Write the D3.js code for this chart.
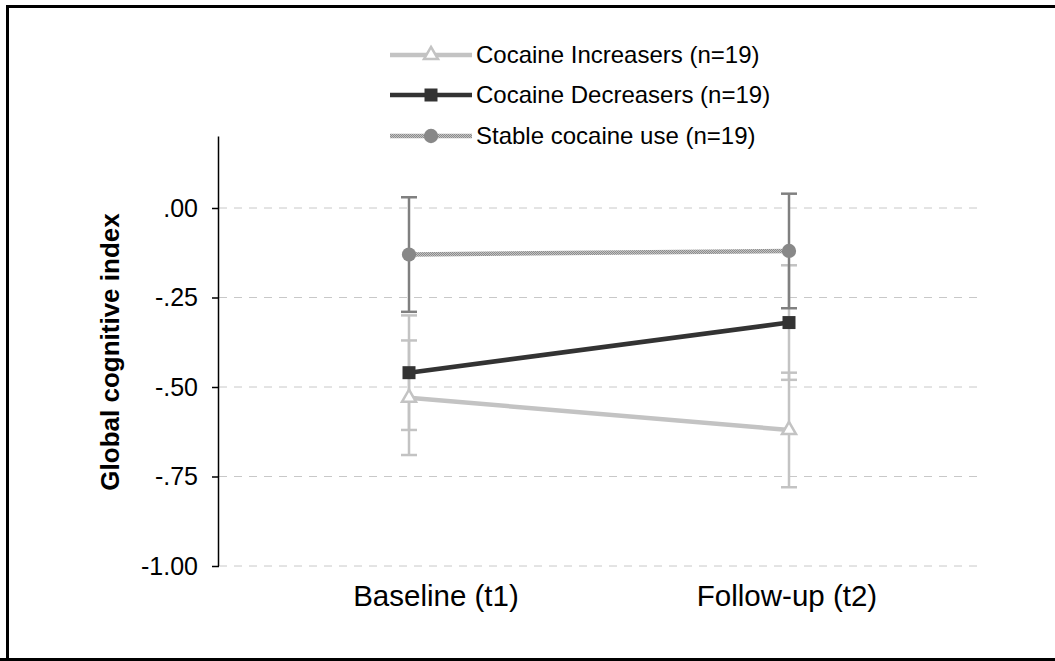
<!DOCTYPE html>
<html><head><meta charset="utf-8">
<script src="https://cdn.jsdelivr.net/npm/d3@7"></script>
<style>body{margin:0;background:#fff}svg{display:block}text{font-family:"Liberation Sans",Arial,sans-serif}</style>
</head><body>
<svg id="chart" width="1055" height="661"></svg>
<script>
const timepoints = ["Baseline (t1)", "Follow-up (t2)"];
const seriesNames = ["Cocaine Increasers (n=19)", "Cocaine Decreasers (n=19)", "Stable cocaine use (n=19)"];
const increasersMean = [-0.53, -0.62];
const increasersErr = [0.16, 0.16];
const decreasersMean = [-0.46, -0.32];
const decreasersErr = [0.16, 0.16];
const stableMean = [-0.13, -0.12];
const stableErr = [0.16, 0.16];
const yTicks = [0, -0.25, -0.5, -0.75, -1.0];
const yTickLabels = [".00", "-.25", "-.50", "-.75", "-1.00"];
const yTitle = "Global cognitive index";

const svg = d3.select("#chart");
const defs = svg.append("defs");
const pat = defs.append("pattern").attr("id","checker").attr("width",2).attr("height",2).attr("patternUnits","userSpaceOnUse");
pat.append("rect").attr("width",2).attr("height",2).attr("fill","#c4c4c4");
pat.append("rect").attr("width",1).attr("height",1).attr("fill","#8c8c8c");
pat.append("rect").attr("x",1).attr("y",1).attr("width",1).attr("height",1).attr("fill","#8c8c8c");

// frame
svg.append("path").attr("d","M7.5,670 L7.5,6.5 L1065,6.5 M0,659.5 L1065,659.5")
  .attr("fill","none").attr("stroke","#000").attr("stroke-width",3);

const x = d3.scaleBand().domain(timepoints).range([219, 979]);
const y = d3.scaleLinear().domain([-1, 0.2]).range([566, 136.4]);
const cx = d => x(d) + x.bandwidth()/2;

// gridlines
svg.append("g").selectAll("line").data(yTicks).join("line")
  .attr("x1", 219).attr("x2", 979).attr("y1", d=>y(d)).attr("y2", d=>y(d))
  .attr("stroke","#c8c8c8").attr("stroke-width",1).attr("stroke-dasharray","8,7");

// y axis
const yAxis = d3.axisLeft(y).tickValues(yTicks).tickSize(7).tickFormat((d,i)=>yTickLabels[i]);
const ga = svg.append("g").attr("transform","translate(219,0)").call(yAxis);
ga.select(".domain").attr("d", `M-0.5,${y(0.2)}V${y(-1)}`).attr("stroke","#000").attr("stroke-width",1.5);
ga.selectAll(".tick line").attr("stroke","#000").attr("stroke-width",1.5);
ga.selectAll(".tick text").attr("x",-21).attr("font-size",25).attr("fill","#000").attr("font-family","Liberation Sans, Arial, sans-serif");

// y title
svg.append("text").attr("transform","translate(119,352) rotate(-90)").attr("text-anchor","middle")
  .attr("font-size",26).attr("font-weight","bold").text(yTitle);

// x labels
svg.append("g").selectAll("text").data(timepoints).join("text")
  .attr("x", d=>cx(d)).attr("dx",(d,i)=> i===0 ? 27 : -2).attr("y", 606)
  .attr("text-anchor","middle").attr("font-size",29.5).text(d=>d);

function errorBars(mean, err, color, w) {
  const g = svg.append("g");
  timepoints.forEach((t,i)=>{
    const xx = cx(t), top = y(mean[i]+err[i]), bot = y(mean[i]-err[i]);
    g.append("line").attr("x1",xx).attr("x2",xx).attr("y1",top).attr("y2",bot).attr("stroke",color).attr("stroke-width",w);
    [top,bot].forEach(v=> g.append("line").attr("x1",xx-8).attr("x2",xx+8).attr("y1",v).attr("y2",v).attr("stroke",color).attr("stroke-width",w));
  });
}
errorBars(increasersMean, increasersErr, "#c3c3c3", 2.5);
errorBars(decreasersMean, decreasersErr, "#c3c3c3", 2.5);
errorBars(stableMean, stableErr, "#808080", 2.5);

const line = d3.line().x((d,i)=>cx(timepoints[i])).y(d=>y(d));
svg.append("path").datum(increasersMean).attr("d",line).attr("fill","none").attr("stroke","#c3c3c3").attr("stroke-width",4.5);
svg.append("path").datum(stableMean).attr("d",line).attr("fill","none").attr("stroke","url(#checker)").attr("stroke-width",4.5);
svg.append("path").datum(decreasersMean).attr("d",line).attr("fill","none").attr("stroke","#333").attr("stroke-width",4.5);

const tri = d3.symbol().type(d3.symbolTriangle).size(85);
const sq = d3.symbol().type(d3.symbolSquare).size(169);
const circ = d3.symbol().type(d3.symbolCircle).size(160);
function markers(mean, sym, fill, stroke, sw) {
  svg.append("g").selectAll("path").data(mean).join("path")
    .attr("transform",(d,i)=>`translate(${cx(timepoints[i])},${y(d)})`)
    .attr("d",sym).attr("fill",fill).attr("stroke",stroke).attr("stroke-width",sw);
}
markers(increasersMean, tri, "#fff", "#c3c3c3", 2.5);
markers(decreasersMean, sq, "#333", "none", 0);
markers(stableMean, circ, "#888", "none", 0);

// legend
const legendY = [55, 95, 136];
const legStyles = [
  {stroke:"#c3c3c3", sym:tri, fill:"#fff", ms:"#c3c3c3", msw:2.5},
  {stroke:"#333", sym:sq, fill:"#333", ms:"none", msw:0},
  {stroke:"url(#checker)", sym:circ, fill:"#888", ms:"none", msw:0}
];
const lg = svg.append("g");
seriesNames.forEach((s,i)=>{
  const st = legStyles[i];
  lg.append("line").attr("x1",390).attr("x2",472).attr("y1",legendY[i]).attr("y2",legendY[i]).attr("stroke",st.stroke).attr("stroke-width",4.5);
  lg.append("path").attr("transform",`translate(431,${legendY[i]})`).attr("d",st.sym).attr("fill",st.fill).attr("stroke",st.ms).attr("stroke-width",st.msw);
  lg.append("text").attr("x",476).attr("y",legendY[i]).attr("dy","0.35em").attr("font-size",24).text(s);
});
</script>
</body></html>
